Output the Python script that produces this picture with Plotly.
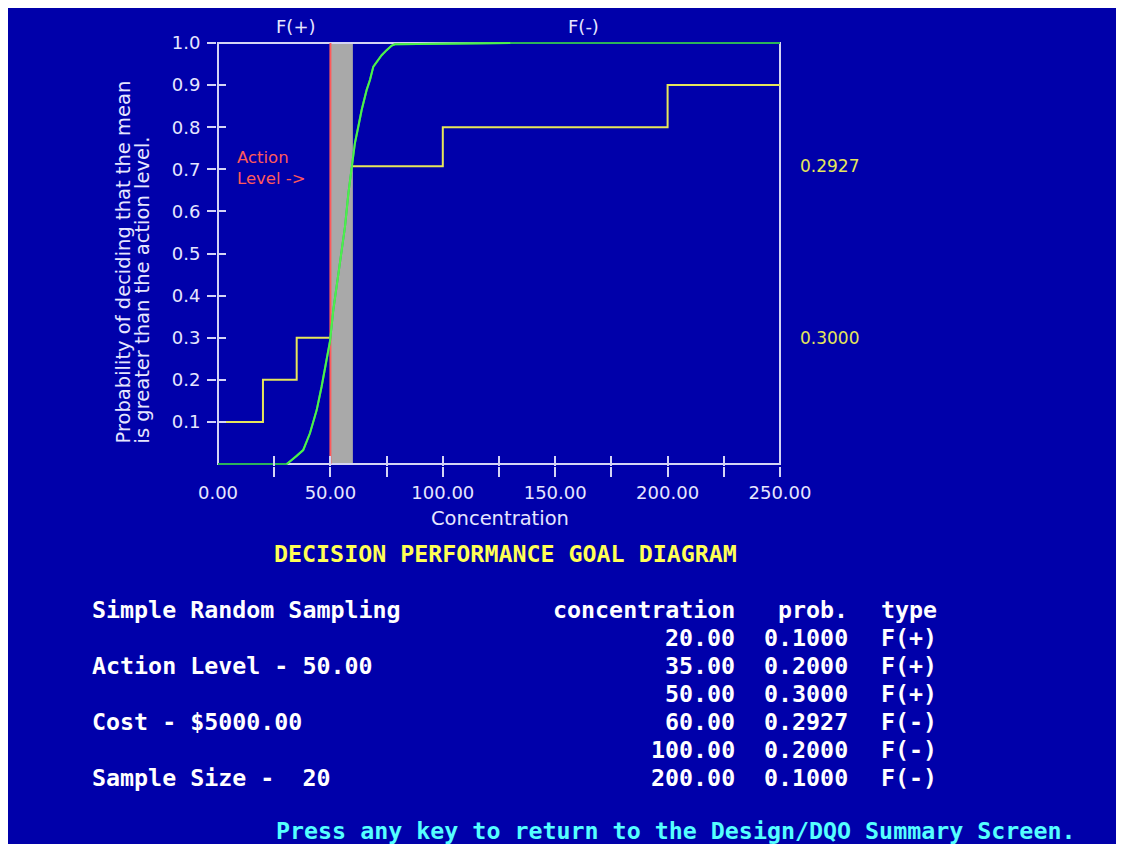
import plotly.graph_objects as go

# ---------------- data ----------------
conc = [20, 35, 50, 60, 100, 200]
prob = [0.1, 0.2, 0.3, 0.2927, 0.2, 0.1]
err_type = ["F(+)", "F(+)", "F(+)", "F(-)", "F(-)", "F(-)"]
action_level = 50
cost = 5000
sample_size = 20
design = "Simple Random Sampling"

x_label_vals = [0, 50, 100, 150, 200, 250]
x_tick_vals = [25, 50, 75, 100, 125, 150, 175, 200, 225, 250]
y_tick_vals = [0.1, 0.2, 0.3, 0.4, 0.5, 0.6, 0.7, 0.8, 0.9, 1.0]

# OC (performance) curve
oc_x = [0, 30.5, 31.3, 35.0, 37.9, 40.9, 43.9, 46.1, 48.4, 49.8, 51.3, 52.8, 54.3,
        56.5, 58.0, 59.5, 60.9, 62.4, 63.9, 66.1, 67.6, 69.1, 70.6, 72.8, 75.0,
        77.3, 78.7, 130, 250]
oc_y = [0, 0, 0.003, 0.019, 0.033, 0.073, 0.128, 0.184, 0.247, 0.291, 0.366, 0.421,
        0.485, 0.564, 0.643, 0.706, 0.762, 0.801, 0.841, 0.888, 0.912, 0.944, 0.956,
        0.971, 0.983, 0.994, 0.997, 1.0, 1.0]
oc_bright = (30.5, 130)

# ---------------- geometry ----------------
OFF = 8                                  # page margin offset of the figure
W, H = 1124 - OFF, 844 - OFF
# positions below are given in screen pixels
L, R, T, B = 217, 781, 41, 466           # plot area
X0PIX, X1PIX = 218, 780                  # pixel of x=0 and x=250
Y0PIX, Y1PIX = 464, 43                   # pixel of y=0 and y=1
xmin, xmax = 0, 250
xs = (X1PIX - X0PIX) / (xmax - xmin)
ys = (Y0PIX - Y1PIX)
xr = [xmin - (X0PIX - L) / xs, xmax + (R - X1PIX) / xs]
yr = [0 - (B - Y0PIX) / ys, 1 + (Y1PIX - T) / ys]


def px(X):
    return (X - L) / (R - L)


def py(Y):
    return (B - Y) / (B - T)


BG = "#0000AA"
AXC = "#d4d4f4"
TXT = "#e6e6ff"
YEL = "#e6e65a"
RED = "#ff5a5a"
SANS = "DejaVu Sans"
MONO = "DejaVu Sans Mono"

fig = go.Figure()

# action level line
fig.add_trace(go.Scatter(x=[action_level, action_level], y=[0, 1], mode="lines",
                         line=dict(color=RED, width=2), hoverinfo="skip"))

# goal steps (yellow)
plus_c = [c for c, t in zip(conc, err_type) if t == "F(+)"]
plus_p = [p for p, t in zip(prob, err_type) if t == "F(+)"]
minus_c = [c for c, t in zip(conc, err_type) if t == "F(-)"]
minus_p = [p for p, t in zip(prob, err_type) if t == "F(-)"]

fig.add_trace(go.Scatter(x=[xmin] + plus_c, y=plus_p + [plus_p[-1]], mode="lines",
                         line=dict(color=YEL, width=2, shape="hv"), hoverinfo="skip"))
fig.add_trace(go.Scatter(x=minus_c + [xmax], y=[1 - p for p in minus_p] + [1 - minus_p[-1]],
                         mode="lines", line=dict(color=YEL, width=2, shape="hv"),
                         hoverinfo="skip"))

# OC curve
fig.add_trace(go.Scatter(x=oc_x, y=oc_y, mode="lines",
                         line=dict(color="#2db35a", width=2), hoverinfo="skip"))
bx = [x for x in oc_x if oc_bright[0] <= x <= oc_bright[1]]
by = [y for x, y in zip(oc_x, oc_y) if oc_bright[0] <= x <= oc_bright[1]]
fig.add_trace(go.Scatter(x=bx, y=by, mode="lines",
                         line=dict(color="#4cf04c", width=2), hoverinfo="skip"))

# dummy traces to activate overlay axes
for xa, ya in (("x2", "y"), ("x3", "y"), ("x", "y2")):
    fig.add_trace(go.Scatter(x=[None], y=[None], xaxis=xa, yaxis=ya, mode="lines",
                             hoverinfo="skip"))

shapes = [
    dict(type="rect", xref="x", yref="y", x0=action_level, x1=minus_c[0], y0=0, y1=1,
         fillcolor="#a9a9a9", line=dict(width=0), layer="below"),
    dict(type="rect", xref="x", yref="y", x0=xmin, x1=xmax, y0=0, y1=1,
         fillcolor="rgba(0,0,0,0)", line=dict(color=AXC, width=2), layer="below"),
]

ann = []


def add(text, X, Y, size, color, font=SANS, xa="center", ya="middle", angle=0, bold=False):
    ann.append(dict(text=("<b>%s</b>" % text) if bold else text, x=px(X), y=py(Y),
                    xref="paper", yref="paper", showarrow=False, xanchor=xa, yanchor=ya,
                    textangle=angle, font=dict(family=font, size=size, color=color)))


add("F(+)", 295, 27, 18, TXT)
add("F(-)", 583, 27, 18, TXT)
add("Action", 235, 157, 16.5, RED, xa="left")
add("Level ->", 235, 178, 16.5, RED, xa="left")
add("Concentration", 500, 518, 19.5, TXT)
add("Probability of deciding that the mean", 123, 446, 19.5, TXT, ya="bottom", angle=-90)
add("is greater than the action level.", 142, 446, 19.5, TXT, ya="bottom", angle=-90)

# right-hand probability labels
ann.append(dict(text="%.4f" % minus_p[0], x=px(798), y=1 - minus_p[0], xref="paper", yref="y",
                showarrow=False, xanchor="left", yanchor="middle",
                font=dict(family=SANS, size=17, color=YEL)))
ann.append(dict(text="%.4f" % plus_p[-1], x=px(798), y=plus_p[-1],
                xref="paper", yref="y", showarrow=False, xanchor="left", yanchor="middle",
                font=dict(family=SANS, size=17, color=YEL)))

MS = 23.3
NB = "\u00a0"
add("DECISION PERFORMANCE GOAL DIAGRAM".replace(" ", NB), 505, 553, MS, "#ffff55",
    font=MONO, bold=True)

left_lines = [design,
              "Action Level - %.2f" % action_level,
              "Cost - $%.2f" % cost,
              ("Sample Size - " + NB + "%d") % sample_size]
for i, s in enumerate(left_lines):
    add(s.replace(" ", NB), 90, 609 + 56 * i, MS, "#ffffff", font=MONO, xa="left", bold=True)

add("concentration", 737, 609, MS, "#ffffff", font=MONO, xa="right", bold=True)
add("prob.", 850, 609, MS, "#ffffff", font=MONO, xa="right", bold=True)
add("type", 879, 609, MS, "#ffffff", font=MONO, xa="left", bold=True)
for i, (c, p, t) in enumerate(zip(conc, prob, err_type)):
    Y = 637 + 28 * i
    add("%.2f" % c, 737, Y, MS, "#ffffff", font=MONO, xa="right", bold=True)
    add("%.4f" % p, 850, Y, MS, "#ffffff", font=MONO, xa="right", bold=True)
    add(t, 879, Y, MS, "#ffffff", font=MONO, xa="left", bold=True)

add("Press any key to return to the Design/DQO Summary Screen.".replace(" ", NB),
    274, 830, MS, "#55ffff", font=MONO, xa="left", bold=True)

common = dict(showgrid=False, zeroline=False, showline=False)
fig.update_layout(
    width=W, height=H,
    margin=dict(l=L - OFF, r=1124 - R, t=T - OFF, b=844 - B),
    paper_bgcolor=BG, plot_bgcolor=BG,
    showlegend=False,
    shapes=shapes, annotations=ann,
    xaxis=dict(range=xr, tickvals=x_label_vals, ticktext=["%.2f" % v for v in x_label_vals],
               ticks="outside", ticklen=10, tickcolor="rgba(0,0,0,0)",
               tickfont=dict(family=SANS, size=18, color=TXT), ticklabelstandoff=0, **common),
    xaxis2=dict(range=xr, overlaying="x", anchor="y", side="bottom", tickvals=x_tick_vals,
                ticks="outside", ticklen=10, tickwidth=2, tickcolor=AXC,
                showticklabels=False, **common),
    xaxis3=dict(range=xr, overlaying="x", anchor="y", side="bottom", tickvals=x_tick_vals,
                ticks="inside", ticklen=10, tickwidth=2, tickcolor=AXC,
                showticklabels=False, **common),
    yaxis=dict(range=yr, tickvals=y_tick_vals, ticktext=["%.1f" % v for v in y_tick_vals],
               ticks="outside", ticklen=9, tickwidth=2, tickcolor=AXC,
               tickfont=dict(family=SANS, size=18, color=TXT), ticklabelstandoff=3, **common),
    yaxis2=dict(range=yr, overlaying="y", anchor="x", side="left", tickvals=y_tick_vals[:-1],
                ticks="inside", ticklen=9, tickwidth=2, tickcolor=AXC,
                showticklabels=False, **common),
)

fig.write_html("out.html")
